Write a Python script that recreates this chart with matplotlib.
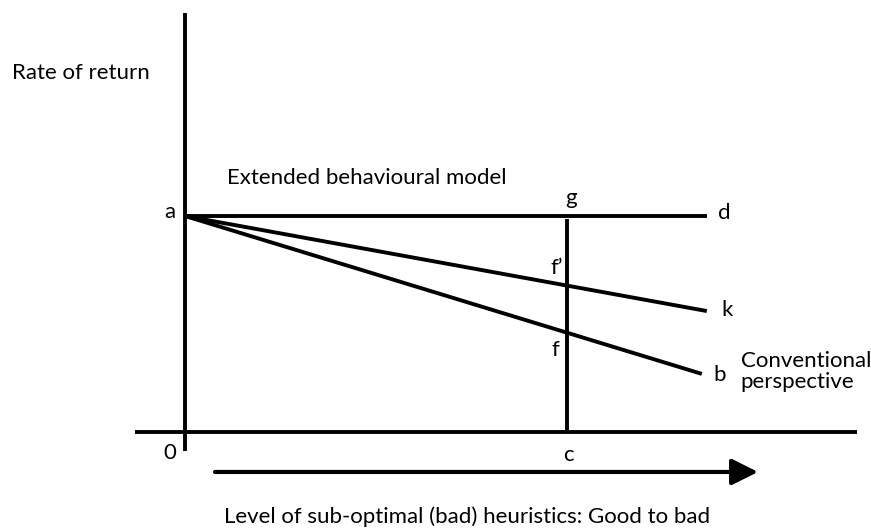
import matplotlib
matplotlib.use("Agg")
import matplotlib.pyplot as plt

plt.rcParams['font.family'] = ['Lato', 'DejaVu Sans']

# Conceptual data (x: level of sub-optimal heuristics, y: rate of return)
x_origin = 0.0
x_c = 10.0
x_end_d = 13.66
x_end_k = 13.66
x_end_b = 13.53
rate_a = 10.0          # rate of return at point a (and along a-d)
rate_k_end = 5.6       # extended behavioural model end (k)
rate_b_end = 2.69      # conventional perspective end (b)

# axis extents
y_axis_range = [-0.88, 19.4]
x_axis_range = [-1.31, 17.59]
arrow_x = [0.785, 15.0]
arrow_y = -1.85

fig = plt.figure(figsize=(8.71, 5.31), dpi=100)
ax = fig.add_axes([0, 0, 1, 1])
ax.set_xlim(-4.843, 17.958)
ax.set_ylim(-4.583, 20.0)
ax.axis('off')

lw = 2.8
# axes
ax.plot([x_origin, x_origin], y_axis_range, color='black', lw=lw, solid_capstyle='butt')
ax.plot(x_axis_range, [0, 0], color='black', lw=lw, solid_capstyle='butt')
# a-d
ax.plot([x_origin, x_end_d], [rate_a, rate_a], color='black', lw=lw, solid_capstyle='butt')
# a-k
ax.plot([x_origin, x_end_k], [rate_a, rate_k_end], color='black', lw=lw, solid_capstyle='butt')
# a-b
ax.plot([x_origin, x_end_b], [rate_a, rate_b_end], color='black', lw=lw, solid_capstyle='butt')
# g-c vertical
ax.plot([x_c, x_c], [0, rate_a - 0.15], color='black', lw=lw, solid_capstyle='butt')

# arrow
ax.annotate('', xy=(arrow_x[1], arrow_y), xytext=(arrow_x[0], arrow_y),
            arrowprops=dict(arrowstyle='-|>,head_length=0.8,head_width=0.4',
                            mutation_scale=20, lw=3.0, color='black',
                            shrinkA=0, shrinkB=0))

fs = 16
ax.text(-4.53, 16.62, 'Rate of return', fontsize=fs, va='center', ha='left')
ax.text(1.1, 11.76, 'Extended behavioural model', fontsize=fs, va='center', ha='left')
ax.text(-0.39, 10.19, 'a', fontsize=fs, va='center', ha='center')
ax.text(10.1, 10.83, 'g', fontsize=fs, va='center', ha='center')
ax.text(13.95, 10.14, 'd', fontsize=fs, va='center', ha='left')
ax.text(9.74, 7.59, 'f\u2019', fontsize=fs, va='center', ha='center')
ax.text(14.03, 5.65, 'k', fontsize=fs, va='center', ha='left')
ax.text(9.69, 3.8, 'f', fontsize=fs, va='center', ha='center')
ax.text(13.82, 2.64, 'b', fontsize=fs, va='center', ha='left')
ax.text(14.55, 2.8, 'Conventional\nperspective', fontsize=fs, va='center', ha='left',
        linespacing=1.1)
ax.text(-0.39, -0.97, '0', fontsize=fs, va='center', ha='center')
ax.text(10.05, -1.06, 'c', fontsize=fs, va='center', ha='center')
ax.text(7.38, -3.94, 'Level of sub-optimal (bad) heuristics: Good to bad', fontsize=fs,
        va='center', ha='center')

fig.savefig('out.png', dpi=100)
